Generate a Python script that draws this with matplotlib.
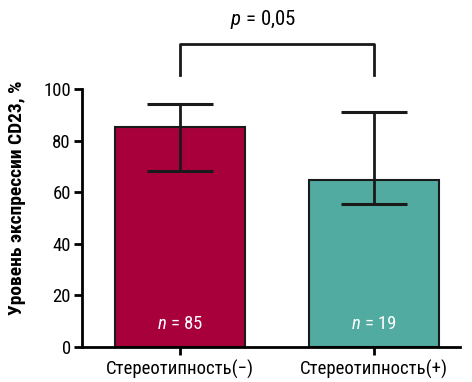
import matplotlib
matplotlib.use("Agg")
import matplotlib.pyplot as plt

categories = ["Стереотипность(−)", "Стереотипность(+)"]
means = [85.3, 64.7]
err_low = [68.2, 55.4]
err_high = [94.2, 91.0]
n_labels = ["85", "19"]
colors = ["#A8003A", "#52ABA0"]
p_text = "0,05"

plt.rcParams['font.family'] = ['Roboto Condensed', 'Roboto', 'DejaVu Sans']
plt.rcParams['mathtext.fontset'] = 'custom'
plt.rcParams['mathtext.it'] = 'Roboto Condensed:italic'
plt.rcParams['mathtext.rm'] = 'Roboto Condensed'

fig = plt.figure(figsize=(4.72, 3.82), dpi=100)
ax = fig.add_axes([0.1737, 0.0916, 0.8009, 0.6754])

x = [0, 1]
yerr = [[m - lo for m, lo in zip(means, err_low)],
        [hi - m for m, hi in zip(means, err_high)]]
ax.bar(x, means, width=0.67, color=colors, edgecolor="#1a1a1a", linewidth=1.5, zorder=2)
ax.errorbar(x, means, yerr=yerr, fmt="none", ecolor="#1a1a1a", elinewidth=2,
            capsize=24, capthick=2.2, zorder=3)

for xi, n in zip(x, n_labels):
    ax.text(xi, 9, f"$n$ = {n}", color="white", ha="center", va="center", fontsize=13.5)

ax.set_xlim(-0.505, 1.443)
ax.set_ylim(0, 100)
ax.set_yticks([0, 20, 40, 60, 80, 100])
ax.set_xticks(x)
ax.set_xticklabels(categories, fontsize=13.5)
ax.tick_params(axis="y", labelsize=13.5, width=2, length=6, pad=2)
ax.tick_params(axis="x", width=2, length=6, pad=3)
ax.spines["top"].set_visible(False)
ax.spines["right"].set_visible(False)
ax.spines["left"].set_linewidth(2)
ax.spines["bottom"].set_linewidth(2)
ax.set_ylabel("Уровень экспрессии CD23, %", fontsize=14, fontweight="bold")
ax.yaxis.set_label_coords(-0.148, 0.58)

# bracket with p value
ax.plot([0, 0, 1, 1], [105.4, 117.4, 117.4, 105.4], color="#1a1a1a", lw=2, clip_on=False)
ax.text(0.43, 127, f"$p$ = {p_text}", ha="center", va="center", fontsize=15)

fig.savefig("out.png", dpi=100)
